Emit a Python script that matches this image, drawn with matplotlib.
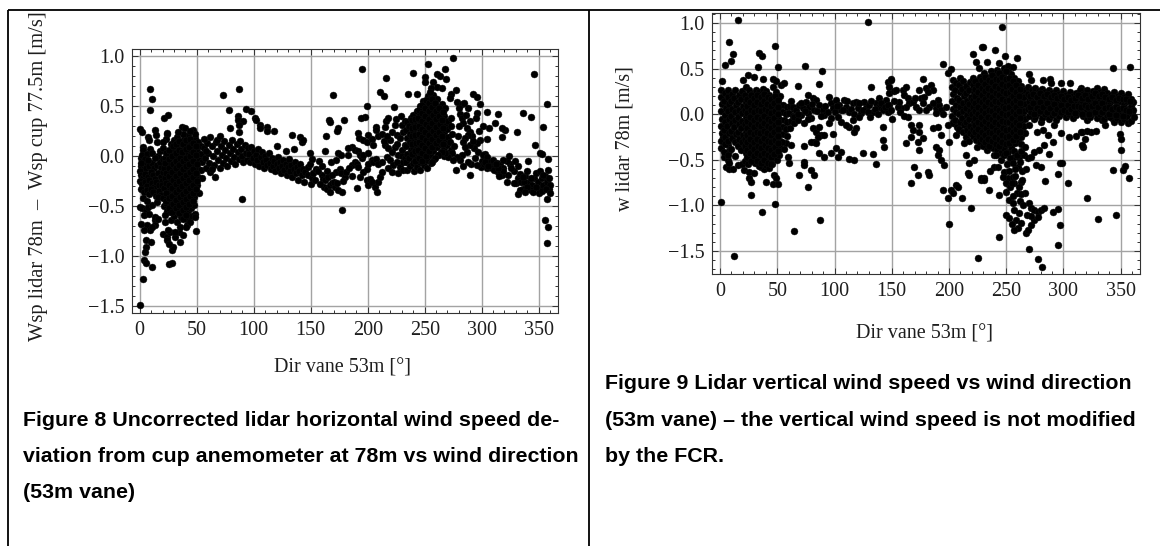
import matplotlib
matplotlib.use("Agg")
import matplotlib.pyplot as plt
from matplotlib.ticker import FixedLocator, MultipleLocator
from matplotlib.lines import Line2D

# ---------------- text ----------------
x_tick_values = [0, 50, 100, 150, 200, 250, 300, 350]
x_tick_labels = ["0", "50", "100", "150", "200", "250", "300", "350"]
y_tick_values = [-1.5, -1.0, -0.5, 0.0, 0.5, 1.0]
y_tick_labels = ["\u22121.5", "\u22121.0", "\u22120.5", "0.0", "0.5", "1.0"]
x_label = "Dir vane 53m [\u00b0]"
y_label_fig8 = "Wsp lidar 78m  \u2013  Wsp cup 77.5m [m/s]"
y_label_fig9 = "w lidar 78m [m/s]"
caption_fig8 = ["Figure 8 Uncorrected lidar horizontal wind speed de-",
                "viation from cup anemometer at 78m vs wind direction",
                "(53m vane)"]
caption_fig9 = ["Figure 9 Lidar vertical wind speed vs wind direction",
                "(53m vane) \u2013 the vertical wind speed is not modified",
                "by the FCR."]

# ---------------- Figure 8 data: (direction deg, wsp deviation m/s) ----------------
fig8_north = [
    (9.0, 0.67), (11.1, 0.57), (9.0, 0.46), (21.6, 0.38), (24.5, 0.41), (0.3, 0.27), (2.4, 0.24), (7.6, 0.19), (8.2, 0.16), (13.4, 0.26),
    (14.3, 0.21), (23.6, 0.22), (22.8, 0.17), (3.2, 0.09), (9.0, 0.07), (14.9, 0.14), (2.6, 0.06), (1.0, -0.02), (4.0, -0.05), (6.5, -0.08),
    (1.5, -0.10), (3.5, -0.13), (0.5, -0.15), (5.5, -0.12), (8.0, -0.10), (10.5, -0.07), (12.5, -0.12), (15.0, -0.09), (17.5, -0.06), (19.0, -0.12),
    (1.0, -0.19), (3.0, -0.22), (5.0, -0.18), (7.0, -0.21), (9.5, -0.16), (11.5, -0.19), (13.5, -0.23), (16.0, -0.17), (18.5, -0.21), (20.0, -0.16),
    (0.5, -0.25), (2.0, -0.28), (4.5, -0.26), (6.5, -0.30), (8.5, -0.24), (10.5, -0.27), (12.5, -0.31), (14.5, -0.26), (17.0, -0.29), (19.5, -0.25),
    (1.5, -0.33), (3.5, -0.36), (6.0, -0.34), (8.0, -0.38), (10.0, -0.33), (12.0, -0.36), (14.0, -0.40), (16.5, -0.35), (18.5, -0.39), (2.5, -0.42),
    (0.3, -0.51), (2.3, -0.52), (5.3, -0.54), (3.8, -0.59), (8.2, -0.58), (1.0, -0.68), (6.5, -0.69), (3.8, -0.74), (9.0, -0.74), (5.3, -0.84),
    (5.3, -0.91), (4.8, -0.96), (3.8, -1.04), (5.3, -1.07), (10.5, -1.11), (2.6, -1.23), (0.3, -1.49), (9.7, -0.86), (13.4, -0.64), (13.4, -0.69),
    (7.6, -0.51), (10.5, -0.49), (14.9, -0.46), (16.3, -0.41), (19.3, -0.29), (13.4, -0.61), (16.3, -0.63), (10.5, -0.71), (6.0, -0.45), (2.0, 0.01),
    (6.0, 0.02), (11.0, 0.03), (16.0, 0.00), (18.0, 0.05), (4.5, -0.03), (7.5, -0.04), (0.8, -0.07), (13.0, -0.02), (20.0, -0.03),
]
fig8_northeast = [
    (20.5, 0.08), (21.8, -0.02), (20.9, -0.12), (22.1, -0.22), (21.2, -0.32), (20.4, -0.42), (21.6, -0.50),
    (24.3, 0.03), (23.5, -0.07), (24.8, -0.17), (23.9, -0.27), (24.6, -0.37), (23.4, -0.47), (24.2, -0.55),
    (27.2, 0.12), (26.5, 0.02), (27.8, -0.08), (26.9, -0.15), (27.4, -0.24), (26.6, -0.33), (27.9, -0.40), (27.1, -0.48), (26.4, -0.56), (27.5, -0.64),
    (30.4, 0.16), (29.6, 0.07), (30.8, -0.03), (29.9, -0.12), (30.2, -0.20), (29.5, -0.28), (30.7, -0.36), (30.1, -0.44), (29.7, -0.52), (30.5, -0.60),
    (33.1, 0.19), (32.6, 0.10), (33.7, 0.01), (32.9, -0.07), (33.4, -0.16), (32.5, -0.25), (33.8, -0.32), (33.0, -0.40), (32.7, -0.48), (33.5, -0.56), (32.8, -0.66),
    (36.3, 0.13), (35.6, 0.04), (36.8, -0.04), (35.9, -0.13), (36.5, -0.21), (35.4, -0.29), (36.7, -0.37), (36.0, -0.45), (35.7, -0.53), (36.4, -0.61),
    (39.2, 0.17), (38.5, 0.08), (39.7, -0.01), (38.8, -0.09), (39.4, -0.18), (38.6, -0.26), (39.8, -0.34), (39.0, -0.42), (38.7, -0.50), (39.5, -0.58),
    (42.1, 0.21), (41.6, 0.12), (42.7, 0.03), (41.9, -0.06), (42.4, -0.15), (41.5, -0.23), (42.8, -0.31), (42.0, -0.39), (41.7, -0.47), (42.5, -0.55), (41.8, -0.63),
    (45.3, 0.15), (44.6, 0.06), (45.7, -0.03), (44.9, -0.12), (45.4, -0.20), (44.5, -0.28), (45.8, -0.36), (45.0, -0.44), (44.7, -0.52), (45.5, -0.60),
    (48.2, 0.18), (47.6, 0.09), (48.7, 0.00), (47.9, -0.09), (48.4, -0.17), (47.5, -0.25), (48.8, -0.33), (48.0, -0.41), (47.7, -0.49),
    (51.3, 0.14), (50.6, 0.05), (51.7, -0.04), (50.9, -0.13), (51.4, -0.21), (50.5, -0.29), (51.8, -0.37),
    (54.2, 0.10), (53.6, 0.02), (54.7, -0.06), (53.9, -0.14), (54.4, -0.22),
    (20.7, -0.78), (23.6, -0.81), (26.6, -0.76), (28.0, -0.94), (29.0, -0.91), (26.0, -1.08), (28.0, -1.07), (23.6, -0.84), (26.0, -0.88), (30.9, -0.81),
    (34.5, -0.76), (35.4, -0.86), (35.4, -0.71), (41.2, -0.69), (44.2, -0.66), (49.4, -0.75), (48.5, -0.58), (48.5, -0.61), (25.0, -0.74), (31.0, -0.76),
    (38.3, -0.79), (40.4, -0.71), (38.3, -0.63), (22.2, -0.59), (22.2, -0.66), (36.8, 0.29), (39.8, 0.28), (47.1, 0.26), (48.5, 0.22), (38.3, 0.22),
    (23.7, 0.23), (20.7, 0.14), (44.0, 0.25), (33.5, 0.24),
]
fig8_northeast_dense = [
    (22.9, 0.03), (22.6, -0.07), (23.0, -0.17), (22.7, -0.27), (23.1, -0.37), (22.8, -0.45),
    (25.8, 0.06), (26.0, -0.03), (25.6, -0.12), (26.1, -0.20), (25.7, -0.29), (26.0, -0.42), (25.5, -0.52),
    (28.8, 0.10), (28.5, 0.00), (29.0, -0.08), (28.6, -0.16), (28.9, -0.24), (28.4, -0.32), (28.7, -0.40), (28.9, -0.48), (28.5, -0.56),
    (31.8, 0.12), (31.5, 0.03), (32.0, -0.05), (31.6, -0.12), (31.9, -0.20), (31.4, -0.28), (31.7, -0.36), (32.0, -0.44), (31.6, -0.52),
    (34.9, 0.15), (34.6, 0.06), (35.0, -0.02), (34.7, -0.09), (35.1, -0.17), (34.5, -0.25), (34.8, -0.33), (35.0, -0.41), (34.6, -0.49), (34.9, -0.57),
    (37.8, 0.12), (37.5, 0.04), (38.0, -0.05), (37.6, -0.13), (37.9, -0.22), (37.4, -0.30), (37.7, -0.38), (38.0, -0.46), (37.6, -0.54),
    (40.8, 0.16), (40.5, 0.07), (41.0, -0.02), (40.6, -0.10), (40.9, -0.19), (40.4, -0.27), (40.7, -0.35), (41.0, -0.43), (40.6, -0.51), (40.9, -0.59),
    (43.8, 0.17), (43.5, 0.09), (44.0, 0.00), (43.6, -0.08), (43.9, -0.16), (43.4, -0.24), (43.7, -0.32), (44.0, -0.40), (43.6, -0.48),
    (46.8, 0.13), (46.5, 0.04), (47.0, -0.05), (46.6, -0.13), (46.9, -0.21), (46.4, -0.29), (46.7, -0.37), (47.0, -0.45),
    (49.8, 0.10), (49.5, 0.01), (50.0, -0.08), (49.6, -0.17), (49.9, -0.25), (49.4, -0.33),
]
fig8_east = [
    (56, 0.08), (57, -0.02), (58, -0.12), (59, 0.13), (60, 0.03), (61, -0.07), (62, -0.16), (63, 0.10), (64, 0.00), (65, -0.09),
    (66, -0.21), (67, 0.14), (68, 0.05), (69, -0.04), (70, -0.12), (71, 0.10), (72, 0.01), (73, -0.07), (74, 0.15), (75, 0.06),
    (76, -0.02), (77, -0.10), (78, 0.11), (79, 0.03), (80, -0.05), (81, 0.16), (82, 0.07), (83, -0.01), (84, -0.08), (85, 0.12),
    (86, 0.04), (87, -0.03), (88, 0.15), (89, 0.07), (90, 0.00), (91, -0.06), (92, 0.11), (93, 0.03), (94, -0.04), (95, 0.08),
    (73.4, 0.61), (87.1, 0.67), (78.6, 0.46), (92.9, 0.47), (97.3, 0.45), (101, 0.38), (102, 0.36), (86.6, 0.40), (86.6, 0.36), (90.9, 0.35),
    (79.2, 0.28), (87.4, 0.31), (87.4, 0.24), (89.8, -0.43), (61.6, 0.19), (67.4, 0.16), (56, 0.17), (63, -0.13), (70, 0.20), (58, 0.05),
]
fig8_southeast = [
    (96, 0.02), (97, -0.06), (98, 0.09), (99, -0.02), (100, 0.05), (101, -0.08), (102, 0.01), (103, -0.04), (104, 0.07), (105, -0.10),
    (106, -0.01), (107, 0.04), (108, -0.06), (109, -0.12), (110, 0.00), (111, -0.04), (112, -0.09), (113, 0.03), (114, -0.07), (115, -0.13),
    (116, -0.02), (117, -0.10), (118, -0.05), (119, -0.15), (120, -0.08), (121, -0.01), (122, -0.12), (123, -0.06), (124, -0.17), (125, -0.10),
    (126, -0.04), (127, -0.14), (128, -0.08), (129, -0.19), (130, -0.11), (131, -0.03), (132, -0.15), (133, -0.09), (134, -0.21), (135, -0.13),
    (136, -0.06), (137, -0.17), (138, -0.11), (139, -0.24), (140, -0.15), (141, -0.08), (142, -0.19), (143, -0.13), (144, -0.26), (145, -0.16),
    (147.3, -0.11), (147.9, -0.19), (150.9, -0.22), (150.3, -0.28), (152.3, -0.17), (153.8, -0.24), (149.4, -0.08), (149.4, 0.03), (150.9, -0.03), (157.3, -0.05),
    (159.6, -0.19), (161, -0.23), (162.5, -0.24), (161.9, -0.31), (163.9, -0.33), (166.8, -0.29), (168.3, -0.27), (165.3, -0.21), (171.3, -0.31), (174.2, -0.34),
    (177.1, -0.36), (177.7, -0.54), (172.5, -0.16), (175.5, -0.13), (177, -0.17), (180, -0.21), (162.5, 0.05), (167.5, -0.06), (172.5, -0.04), (174, 0.03),
    (176.4, 0.01), (155, -0.13), (158, -0.28), (156, -0.15), (160, -0.10), (164, -0.15), (169, -0.19), (170, -0.26), (167, -0.36), (173, -0.27),
    (105.5, 0.31), (105.5, 0.28), (111.9, 0.29), (111.9, 0.25), (117.8, 0.25), (133.3, 0.21), (140.6, 0.19), (142.1, 0.14), (143, 0.16), (128, 0.05),
    (135, 0.07), (120, 0.10), (163.4, 0.20), (166.1, 0.36), (167, 0.34), (169.9, 0.61), (173.7, 0.28), (173.1, 0.25), (179.5, 0.36),
]
fig8_south = [
    (195.3, 0.864), (216.1, 0.78), (210.8, 0.64), (214.3, 0.60), (199.7, 0.50), (197.7, 0.39), (194.1, 0.38), (223.3, 0.49), (207, 0.29), (207.6, 0.26),
    (214.9, 0.29), (216.4, 0.35), (217.8, 0.38), (225.2, 0.37), (229.6, 0.40), (191.8, 0.23), (192.7, 0.18), (196.2, 0.16), (199.1, 0.14), (200.6, 0.21),
    (203.5, 0.17), (205, 0.11), (209.3, 0.20), (212.3, 0.22), (186, 0.09), (189, 0.06), (191.2, 0.05), (193.2, 0.01), (194.7, -0.02), (182.9, 0.01),
    (183, 0.08), (186, -0.09), (188.8, -0.06), (190.3, -0.08), (191.8, -0.11), (190.3, -0.32), (193.2, -0.21), (196.2, -0.16), (199.1, -0.24), (200.6, -0.29),
    (202, -0.23), (203.5, -0.26), (206.4, -0.31), (207.9, -0.36), (209.3, -0.26), (210.8, -0.21), (212.3, -0.16), (199.1, -0.13), (200.6, -0.08), (203.5, -0.04),
    (205, -0.06), (207, -0.03), (209.3, -0.08), (212.3, -0.06), (196.2, 0.01), (200.6, 0.03), (181.4, -0.16), (184, -0.12), (186.5, -0.20), (178, -0.25),
    (215.2, 0.107), (218.1, 0.074), (221, 0.04), (223.9, 0.09), (226.9, 0.007), (229.8, 0.057), (232.7, 0.107), (216.6, -0.01), (219.5, -0.043), (222.5, -0.093),
    (225.4, -0.06), (228.3, -0.11), (231.3, -0.06), (218.1, -0.126), (221.6, -0.16), (226.9, -0.176), (231.3, -0.143), (221, 0.24), (225.4, 0.207), (228.3, 0.174),
    (231.3, 0.234), (223.9, 0.307), (229.8, 0.307), (232.7, 0.347), (214, 0.15), (220, 0.16), (226, 0.12), (217, 0.20), (230, 0.00), (233, -0.02),
]
fig8_southwest = [
    (234.2, -0.14), (233.6, -0.06), (234.7, 0.02), (233.9, 0.10), (234.4, 0.18), (233.5, 0.26), (234.8, 0.34),
    (237.3, -0.10), (236.6, -0.02), (237.8, 0.06), (236.9, 0.14), (237.4, 0.22), (236.5, 0.30), (237.7, 0.38),
    (240.2, -0.15), (239.6, -0.07), (240.7, 0.01), (239.9, 0.09), (240.4, 0.17), (239.5, 0.25), (240.8, 0.33), (240.0, 0.41),
    (243.3, -0.11), (242.6, -0.03), (243.8, 0.05), (242.9, 0.13), (243.4, 0.21), (242.5, 0.29), (243.7, 0.37), (243.0, 0.45),
    (246.2, -0.14), (245.6, -0.06), (246.7, 0.02), (245.9, 0.10), (246.4, 0.18), (245.5, 0.26), (246.8, 0.34), (246.0, 0.42), (245.7, 0.50),
    (249.3, -0.09), (248.6, -0.01), (249.8, 0.07), (248.9, 0.15), (249.4, 0.23), (248.5, 0.31), (249.7, 0.39), (249.0, 0.47), (248.7, 0.55),
    (252.2, -0.12), (251.6, -0.04), (252.7, 0.04), (251.9, 0.12), (252.4, 0.20), (251.5, 0.28), (252.8, 0.36), (252.0, 0.44), (251.7, 0.52), (252.5, 0.60),
    (255.3, -0.07), (254.6, 0.01), (255.8, 0.09), (254.9, 0.17), (255.4, 0.25), (254.5, 0.33), (255.7, 0.41), (255.0, 0.49), (254.7, 0.57),
    (258.2, -0.03), (257.6, 0.05), (258.7, 0.13), (257.9, 0.21), (258.4, 0.29), (257.5, 0.37), (258.8, 0.45), (258.0, 0.53), (257.7, 0.61),
    (261.3, 0.01), (260.6, 0.09), (261.8, 0.17), (260.9, 0.25), (261.4, 0.33), (260.5, 0.41), (261.7, 0.49), (261.0, 0.57),
    (264.2, 0.04), (263.6, 0.12), (264.7, 0.20), (263.9, 0.28), (264.4, 0.36), (263.5, 0.44), (264.8, 0.52),
    (267.3, 0.00), (266.6, 0.08), (267.8, 0.16), (266.9, 0.24), (267.4, 0.32), (266.5, 0.40), (267.7, 0.48),
    (270.2, 0.03), (269.6, 0.11), (270.7, 0.19), (269.9, 0.27), (270.4, 0.35),
    (273.3, 0.06), (272.6, 0.14), (273.8, 0.22), (272.9, 0.30), (273.4, 0.38),
    (275.1, 0.98), (253.2, 0.92), (240, 0.83), (250.3, 0.79), (250.3, 0.74), (260.5, 0.82), (263.4, 0.80), (267.8, 0.87), (268.7, 0.77), (257.6, 0.74),
    (260.5, 0.69), (264.9, 0.68), (235.6, 0.62), (242.9, 0.62), (255.2, 0.68), (254.6, 0.64), (272.7, 0.62), (272.1, 0.58), (277.1, 0.66), (292.6, 0.62),
    (296.1, 0.59), (278.6, 0.54), (283, 0.52), (284.4, 0.53),
]
fig8_southwest_dense = [
    (238.8, 0.02), (238.5, 0.12), (239.0, 0.20), (238.6, 0.28), (238.9, 0.36),
    (241.8, -0.05), (241.5, 0.05), (242.0, 0.13), (241.6, 0.21), (241.9, 0.29), (241.4, 0.37),
    (244.8, -0.02), (244.5, 0.06), (245.0, 0.14), (244.6, 0.22), (244.9, 0.30), (244.4, 0.38), (244.7, 0.46),
    (247.8, -0.05), (247.5, 0.03), (248.0, 0.11), (247.6, 0.19), (247.9, 0.27), (247.4, 0.35), (247.7, 0.43), (248.0, 0.51),
    (250.8, 0.00), (250.5, 0.08), (251.0, 0.16), (250.6, 0.24), (250.9, 0.32), (250.4, 0.40), (250.7, 0.48), (251.0, 0.56),
    (253.8, 0.05), (253.5, 0.13), (254.0, 0.21), (253.6, 0.29), (253.9, 0.37), (253.4, 0.45), (253.7, 0.53),
    (256.8, 0.09), (256.5, 0.17), (257.0, 0.25), (256.6, 0.33), (256.9, 0.41), (256.4, 0.49), (256.7, 0.57),
    (259.8, 0.13), (259.5, 0.21), (260.0, 0.29), (259.6, 0.37), (259.9, 0.45), (259.4, 0.53),
    (262.8, 0.16), (262.5, 0.24), (263.0, 0.32), (262.6, 0.40), (262.9, 0.48),
    (265.8, 0.12), (265.5, 0.20), (266.0, 0.28), (265.6, 0.36), (265.9, 0.44),
]
fig8_west = [
    (288.3, 0.48), (295.6, 0.43), (298.5, 0.52), (295, 0.38), (305, 0.44), (306.8, 0.28), (305, 0.17), (311.7, 0.33), (317.5, 0.19), (280.4, 0.48),
    (281, 0.42), (282.5, 0.38), (283.9, 0.33), (286.9, 0.28), (289.8, 0.24), (291.2, 0.20), (288.3, 0.21), (285.4, 0.18), (283.9, 0.14), (297.9, 0.247),
    (298.5, 0.157), (296.1, 0.124), (293.2, 0.074), (289.8, 0.107), (286.9, 0.04), (282.5, 0.007), (281, -0.043), (278.1, -0.01), (273.7, 0.024), (270.8, -0.01),
    (267.8, 0.024), (264.9, 0.04), (262, 0.007), (259, -0.027), (256.1, -0.06), (277.5, -0.143), (289.8, -0.193), (276, 0.10), (279, 0.20), (285, 0.09),
    (292, 0.15), (294, -0.02), (297, 0.04), (300, -0.05), (303, 0.02), (291, -0.08), (288, -0.06), (299, -0.11), (302, -0.08), (305, -0.12),
    (301.4, 0.007), (304.3, -0.01), (307.3, -0.06), (310.2, -0.043), (313.1, -0.076), (316.1, -0.093), (319, -0.126), (302.8, -0.06), (308.7, -0.126), (314.6, -0.16),
    (317.5, -0.193), (305.8, -0.10), (311, -0.14), (296, -0.09), (284, -0.10), (275, -0.04), (280, 0.30), (290, 0.35), (301, 0.30), (286, 0.41),
]
fig8_northwest = [
    (346.1, 0.82), (357.4, 0.52), (354.2, 0.29), (335.8, 0.43), (343.5, 0.39), (320.3, 0.26), (331, 0.24), (347.1, 0.11), (351, 0.03), (352.6, 0.02),
    (358.1, -0.03), (357.4, -0.43), (355.8, -0.64), (358.4, -0.71), (357.4, -0.87), (325.2, -0.084), (328.4, -0.153), (331.6, -0.223), (330, -0.275), (334.8, -0.258),
    (336.5, -0.328), (338.1, -0.206), (341.3, -0.258), (344.5, -0.293), (342.9, -0.345), (346.1, -0.223), (349.4, -0.258), (351, -0.328), (352.6, -0.223), (354.2, -0.293),
    (355.8, -0.206), (357.4, -0.258), (359, -0.328), (360, -0.293), (347.7, -0.171), (351, -0.153), (354.2, -0.188), (339.7, -0.153), (333.2, -0.345), (331.6, -0.38),
    (328.4, -0.275), (323.5, -0.188), (321.9, -0.258), (318.7, -0.153), (315.5, -0.206), (313.9, -0.118), (312.3, -0.084), (322, -0.05), (326, -0.12), (334, -0.18),
    (337, -0.26), (340, -0.31), (345, -0.36), (348, -0.31), (350, -0.37), (353, -0.35), (356, -0.33), (359, -0.22), (343, -0.22), (336, -0.21),
    (324, 0.00), (329, -0.05), (332, -0.10), (319, -0.04), (360, -0.37), (358.5, -0.14), (341, -0.05), (338, -0.36), (313.9, 0.42), (318, 0.28),
]

# ---------------- Figure 9 data: (direction deg, vertical wind speed m/s) ----------------
fig9_north = [
    (15.4, 1.03), (8.1, 0.79), (11, 0.66), (9.6, 0.58), (4.6, 0.54), (34.4, 0.675), (36.4, 0.64), (48.3, 0.75), (50.4, 0.52), (32.9, 0.52),
    (24.2, 0.43), (30, 0.41), (37.3, 0.39), (46, 0.39), (48.9, 0.36), (53.3, 0.32), (56.2, 0.34), (0.9, -0.96), (48.3, -0.98), (27.1, -0.89),
    (36.4, -1.07), (64.9, -1.28), (12.5, -1.56), (40.2, -0.74), (46, -0.76), (50.4, -0.76), (25.6, -0.70), (27.1, -0.74), (21.2, -0.61), (25.6, -0.63),
    (30, -0.65), (35.8, -0.58), (38.8, -0.6), (47.5, -0.67), (48.9, -0.70), (5.2, -0.58), (8.1, -0.6), (11, -0.6), (15.4, -0.56), (2.3, -0.25),
    (5.2, -0.17), (6.6, -0.34), (8.1, -0.40), (3.7, -0.47), (6.6, -0.50), (57.6, -0.32), (59, -0.47), (60.5, -0.54), (1.5, 0.36), (20, 0.37),
]
fig9_north_core = [
    (1.2, 0.27), (0.6, 0.19), (1.7, 0.11), (0.9, 0.03), (1.4, -0.05), (0.5, -0.13), (1.8, -0.21), (1.0, -0.29), (0.7, -0.37),
    (4.3, 0.23), (3.6, 0.15), (4.8, 0.07), (3.9, -0.01), (4.4, -0.09), (3.5, -0.17), (4.7, -0.25), (4.0, -0.33), (3.7, -0.41),
    (7.2, 0.27), (6.6, 0.19), (7.7, 0.11), (6.9, 0.03), (7.4, -0.05), (6.5, -0.13), (7.8, -0.21), (7.0, -0.29), (6.7, -0.45), (7.5, -0.53),
    (10.3, 0.22), (9.6, 0.14), (10.8, 0.06), (9.9, -0.02), (10.4, -0.10), (9.5, -0.18), (10.7, -0.26), (10.0, -0.38),
    (13.2, 0.26), (12.6, 0.18), (13.7, 0.10), (12.9, 0.02), (13.4, -0.06), (12.5, -0.14), (13.8, -0.22), (13.0, -0.30), (12.7, -0.46),
    (16.3, 0.21), (15.6, 0.13), (16.8, 0.05), (15.9, -0.03), (16.4, -0.11), (15.5, -0.19), (16.7, -0.27), (16.0, -0.35),
    (19.2, 0.25), (18.6, 0.17), (19.7, 0.09), (18.9, 0.01), (19.4, -0.07), (18.5, -0.15), (19.8, -0.23), (19.0, -0.31), (18.7, -0.39), (19.5, -0.55),
    (22.3, 0.30), (21.6, 0.21), (22.8, 0.13), (21.9, 0.05), (22.4, -0.03), (21.5, -0.11), (22.7, -0.19), (22.0, -0.27), (21.7, -0.35), (22.5, -0.43), (21.8, -0.51),
    (25.2, 0.26), (24.6, 0.17), (25.7, 0.09), (24.9, 0.01), (25.4, -0.07), (24.5, -0.15), (25.8, -0.23), (25.0, -0.31), (24.7, -0.39), (25.5, -0.47), (24.8, -0.55),
    (28.3, 0.22), (27.6, 0.14), (28.8, 0.06), (27.9, -0.02), (28.4, -0.10), (27.5, -0.18), (28.7, -0.26), (28.0, -0.34), (27.7, -0.42), (28.5, -0.50),
    (31.2, 0.27), (30.6, 0.18), (31.7, 0.10), (30.9, 0.02), (31.4, -0.06), (30.5, -0.14), (31.8, -0.22), (31.0, -0.30), (30.7, -0.38), (31.5, -0.46), (30.8, -0.54),
    (34.3, 0.24), (33.6, 0.15), (34.8, 0.07), (33.9, -0.01), (34.4, -0.09), (33.5, -0.17), (34.7, -0.25), (34.0, -0.33), (33.7, -0.41), (34.5, -0.49), (33.8, -0.57),
    (37.2, 0.28), (36.6, 0.20), (37.7, 0.12), (36.9, 0.04), (37.4, -0.04), (36.5, -0.12), (37.8, -0.20), (37.0, -0.28), (36.7, -0.36), (37.5, -0.44), (36.8, -0.52),
    (40.3, 0.25), (39.6, 0.16), (40.8, 0.08), (39.9, 0.00), (40.4, -0.08), (39.5, -0.16), (40.7, -0.24), (40.0, -0.32), (39.7, -0.40), (40.5, -0.48), (39.8, -0.56),
    (43.2, 0.21), (42.6, 0.13), (43.7, 0.05), (42.9, -0.03), (43.4, -0.11), (42.5, -0.19), (43.8, -0.27), (43.0, -0.35), (42.7, -0.43), (43.5, -0.51), (42.8, -0.59),
    (46.3, 0.30), (45.6, 0.17), (46.8, 0.09), (45.9, 0.01), (46.4, -0.07), (45.5, -0.15), (46.7, -0.23), (46.0, -0.31), (45.7, -0.39), (46.5, -0.47), (45.8, -0.55),
    (49.2, 0.24), (48.6, 0.14), (49.7, 0.06), (48.9, -0.02), (49.4, -0.10), (48.5, -0.18), (49.8, -0.26), (49.0, -0.34), (48.7, -0.42), (49.5, -0.50),
    (52.3, 0.20), (51.6, 0.11), (52.8, 0.03), (51.9, -0.05), (52.4, -0.13), (51.5, -0.21), (52.7, -0.29), (52.0, -0.37), (51.7, -0.45),
    (55.2, 0.10), (54.6, 0.02), (55.7, -0.06), (54.9, -0.14), (55.4, -0.22), (54.5, -0.30), (55.8, -0.38),
    (58.3, 0.08), (57.6, 0.00), (58.8, -0.08), (57.9, -0.16), (58.4, -0.24),
    (61.2, 0.09), (60.6, 0.01), (61.7, -0.07), (60.9, -0.15),
    (64.3, 0.06), (63.6, -0.02), (64.8, -0.10),
]
fig9_north_dense = [
    (23.6, 0.17), (23.4, 0.09), (23.8, 0.01), (23.5, -0.07), (23.7, -0.15), (23.3, -0.23), (23.6, -0.31), (23.9, -0.39), (23.5, -0.47),
    (26.7, 0.21), (26.4, 0.13), (26.9, 0.05), (26.5, -0.03), (26.8, -0.11), (26.3, -0.19), (26.6, -0.27), (26.9, -0.35), (26.5, -0.43), (26.7, -0.51),
    (29.6, 0.18), (29.4, 0.10), (29.8, 0.02), (29.5, -0.06), (29.7, -0.14), (29.3, -0.22), (29.6, -0.30), (29.9, -0.38), (29.5, -0.46),
    (32.7, 0.21), (32.4, 0.13), (32.9, 0.05), (32.5, -0.03), (32.8, -0.11), (32.3, -0.19), (32.6, -0.27), (32.9, -0.35), (32.5, -0.43), (32.7, -0.51),
    (35.6, 0.19), (35.4, 0.11), (35.8, 0.03), (35.5, -0.05), (35.7, -0.13), (35.3, -0.21), (35.6, -0.29), (35.9, -0.37), (35.5, -0.45), (35.7, -0.53),
    (38.7, 0.22), (38.4, 0.14), (38.9, 0.06), (38.5, -0.02), (38.8, -0.10), (38.3, -0.18), (38.6, -0.26), (38.9, -0.34), (38.5, -0.42), (38.7, -0.50),
    (41.6, 0.19), (41.4, 0.11), (41.8, 0.03), (41.5, -0.05), (41.7, -0.13), (41.3, -0.21), (41.6, -0.29), (41.9, -0.37), (41.5, -0.45), (41.7, -0.53),
    (44.7, 0.17), (44.4, 0.09), (44.9, 0.01), (44.5, -0.07), (44.8, -0.15), (44.3, -0.23), (44.6, -0.31), (44.9, -0.39), (44.5, -0.47), (44.7, -0.55),
    (47.6, 0.20), (47.4, 0.12), (47.8, 0.04), (47.5, -0.04), (47.7, -0.12), (47.3, -0.20), (47.6, -0.28), (47.9, -0.36), (47.5, -0.44),
    (50.7, 0.16), (50.4, 0.08), (50.9, 0.00), (50.5, -0.08), (50.8, -0.16), (50.3, -0.24), (50.6, -0.32), (50.9, -0.40),
]
fig9_east = [
    (63.5, 0.082), (66.4, 0.046), (69.3, 0.10), (72.2, 0.064), (75.1, 0.137), (78, 0.082), (80.9, 0.173), (64.9, -0.027), (67.8, -0.064), (70.7, -0.009),
    (73.7, -0.10), (76.6, 0.009), (79.5, -0.046), (82.4, 0.046), (83.8, 0.155), (86.8, 0.10), (89.7, 0.046), (91.1, -0.009), (94, 0.027), (95.5, 0.192),
    (96.9, 0.119), (98.4, 0.064), (101.3, 0.155), (104.2, 0.10), (105.7, 0.046), (108.6, 0.155), (110, 0.082), (112.9, 0.027), (115.9, 0.119), (118.8, 0.137),
    (120.2, 0.064), (123.2, 0.009), (126.1, 0.137), (127.5, 0.064), (130.5, 0.10), (133.3, 0.027), (136.3, 0.119), (139.2, 0.082), (142.1, 0.046), (145, 0.155),
    (148, 0.10), (146.5, 0.027), (139.2, 0.173), (68, 0.00), (71, 0.12), (74, 0.03), (77, -0.05), (80, 0.11), (85, 0.03), (88, -0.02),
    (92, 0.09), (100, 0.02), (103, -0.03), (107, 0.05), (111, 0.14), (114, 0.06), (117, 0.00), (121, 0.12), (125, 0.05), (129, 0.02),
    (132, 0.15), (135, 0.06), (138, 0.00), (141, 0.12), (144, 0.08), (97, -0.04), (102, 0.09), (116, -0.06), (131, -0.03), (62, 0.14),
    (128.9, 1.008), (74.2, 0.53), (88.8, 0.47), (68.2, 0.31), (86.8, 0.33), (131.9, 0.30), (146.5, 0.35), (149.3, 0.39), (147.9, 0.23), (80.9, -0.155),
    (83.8, -0.192), (86.8, -0.137), (88.2, -0.228), (85.3, -0.246), (82.4, -0.301), (91.1, -0.228), (98.4, -0.218), (79.5, -0.301), (83.8, -0.313), (73.7, -0.35),
    (62, -0.34), (86.8, -0.43), (91.1, -0.47), (96.9, -0.43), (101.3, -0.375), (105.7, -0.41), (102.7, -0.465), (112.9, -0.49), (117.3, -0.50), (124.6, -0.43),
    (133.3, -0.44), (136.3, -0.55), (73.7, -0.52), (73.1, -0.56), (69.3, -0.67), (79.5, -0.61), (81.8, -0.67), (76.6, -0.80), (87.6, -1.16), (142.1, -0.137),
    (142.1, -0.284), (143, -0.365), (112.9, -0.137), (118.8, -0.155), (117.3, -0.192), (110, -0.119), (121.7, -0.027), (95, -0.10), (106, -0.08), (77, 0.21),
]
fig9_south = [
    (177, 0.386), (179.9, 0.284), (184.3, 0.32), (185.7, 0.265), (181.3, 0.247), (174.1, 0.265), (175.5, 0.173), (177, 0.119), (178.4, 0.192), (149.3, 0.37),
    (147.9, 0.30), (152.3, 0.25), (153.7, 0.27), (159.5, 0.265), (160.9, 0.21), (162.4, 0.294), (163.9, 0.173), (165.3, 0.119), (168.2, 0.137), (171.2, 0.082),
    (162.4, 0.082), (158, 0.064), (146.4, 0.10), (149.3, 0.046), (155.2, 0.082), (156.6, 0.137), (174.1, 0.046), (182.8, 0.082), (188.6, 0.064), (191.5, 0.10),
    (193, 0.046), (190, 0.155), (188.6, 0.009), (163.9, -0.027), (166.8, -0.119), (168.2, -0.173), (174.1, -0.119), (166.8, -0.246), (174.1, -0.192), (172.7, -0.301),
    (174.1, -0.393), (177, -0.265), (162.4, -0.319), (185.7, -0.155), (190, -0.137), (193, -0.228), (200.3, -0.301), (198.9, -0.119), (203.2, -0.082), (206.1, -0.228),
    (209, -0.173), (213.4, -0.319), (214.8, -0.21), (188.6, -0.356), (191.5, -0.393), (190, -0.447), (193, -0.502), (195.9, -0.557), (169.7, -0.575), (172.7, -0.666),
    (166.8, -0.757), (181.3, -0.63), (182.8, -0.666), (194.5, -0.83), (201.7, -0.83), (203.2, -0.868), (206.1, -0.776), (207.5, -0.794), (198.9, -0.922), (211.2, -0.922),
    (199.7, -1.2), (219.2, -1.03), (225.1, -1.58), (214.8, -0.447), (217.7, -0.53), (216.2, -0.64), (217.7, -0.666), (227.9, -0.72), (230.8, -0.70), (222, -0.502),
    (228.8, 0.74), (221.2, 0.66), (223.5, 0.57), (194.5, 0.55), (198.9, 0.45), (201.7, 0.50), (152, 0.14), (157, 0.02), (170, 0.18), (180, 0.05),
    (186, 0.12), (195, 0.00), (197, 0.08), (150, -0.05), (161, -0.02),
]
fig9_southwest_core = [
    (203.2, 0.38), (202.6, 0.30), (203.7, 0.22), (202.9, 0.14), (203.4, 0.06), (202.5, -0.02), (203.8, -0.10),
    (206.3, 0.34), (205.6, 0.26), (206.8, 0.18), (205.9, 0.10), (206.4, 0.02), (205.5, -0.06), (206.7, -0.14),
    (209.2, 0.40), (208.6, 0.32), (209.7, 0.24), (208.9, 0.16), (209.4, 0.08), (208.5, 0.00), (209.8, -0.08), (209.0, -0.16),
    (212.3, 0.36), (211.6, 0.28), (212.8, 0.20), (211.9, 0.12), (212.4, 0.04), (211.5, -0.04), (212.7, -0.12), (212.0, -0.20),
    (215.2, 0.31), (214.6, 0.23), (215.7, 0.15), (214.9, 0.07), (215.4, -0.01), (214.5, -0.09), (215.8, -0.17), (215.0, -0.25),
    (218.3, 0.35), (217.6, 0.27), (218.8, 0.19), (217.9, 0.11), (218.4, 0.03), (217.5, -0.05), (218.7, -0.13), (218.0, -0.21), (217.7, -0.29),
    (221.2, 0.40), (220.6, 0.32), (221.7, 0.24), (220.9, 0.16), (221.4, 0.08), (220.5, 0.00), (221.8, -0.08), (221.0, -0.16), (220.7, -0.24),
    (224.3, 0.36), (223.6, 0.28), (224.8, 0.20), (223.9, 0.12), (224.4, 0.04), (223.5, -0.04), (224.7, -0.12), (224.0, -0.20), (223.7, -0.28), (224.5, -0.36),
    (227.2, 0.41), (226.6, 0.33), (227.7, 0.25), (226.9, 0.17), (227.4, 0.09), (226.5, 0.01), (227.8, -0.07), (227.0, -0.15), (226.7, -0.23), (227.5, -0.31),
    (230.3, 0.45), (229.6, 0.37), (230.8, 0.29), (229.9, 0.21), (230.4, 0.13), (229.5, 0.05), (230.7, -0.03), (230.0, -0.11), (229.7, -0.19), (230.5, -0.27), (229.8, -0.35),
    (233.2, 0.41), (232.6, 0.33), (233.7, 0.25), (232.9, 0.17), (233.4, 0.09), (232.5, 0.01), (233.8, -0.07), (233.0, -0.15), (232.7, -0.23), (233.5, -0.31), (232.8, -0.39),
    (236.3, 0.47), (235.6, 0.39), (236.8, 0.31), (235.9, 0.23), (236.4, 0.15), (235.5, 0.07), (236.7, -0.01), (236.0, -0.09), (235.7, -0.17), (236.5, -0.25), (235.8, -0.33),
    (239.2, 0.43), (238.6, 0.35), (239.7, 0.27), (238.9, 0.19), (239.4, 0.11), (238.5, 0.03), (239.8, -0.05), (239.0, -0.13), (238.7, -0.21), (239.5, -0.29), (238.8, -0.37), (239.3, -0.45),
    (242.3, 0.49), (241.6, 0.41), (242.8, 0.33), (241.9, 0.25), (242.4, 0.17), (241.5, 0.09), (242.7, 0.01), (242.0, -0.07), (241.7, -0.15), (242.5, -0.23), (241.8, -0.31), (242.2, -0.39),
    (245.2, 0.45), (244.6, 0.37), (245.7, 0.29), (244.9, 0.21), (245.4, 0.13), (244.5, 0.05), (245.8, -0.03), (245.0, -0.11), (244.7, -0.19), (245.5, -0.27), (244.8, -0.35), (245.3, -0.43),
    (248.3, 0.51), (247.6, 0.43), (248.8, 0.35), (247.9, 0.27), (248.4, 0.19), (247.5, 0.11), (248.7, 0.03), (248.0, -0.05), (247.7, -0.13), (248.5, -0.21), (247.8, -0.29), (248.2, -0.37),
    (251.2, 0.47), (250.6, 0.39), (251.7, 0.31), (250.9, 0.23), (251.4, 0.15), (250.5, 0.07), (251.8, -0.01), (251.0, -0.09), (250.7, -0.17), (251.5, -0.25), (250.8, -0.33), (251.3, -0.41),
    (254.3, 0.44), (253.6, 0.36), (254.8, 0.28), (253.9, 0.20), (254.4, 0.12), (253.5, 0.04), (254.7, -0.04), (254.0, -0.12), (253.7, -0.20), (254.5, -0.28), (253.8, -0.36),
    (257.2, 0.40), (256.6, 0.32), (257.7, 0.24), (256.9, 0.16), (257.4, 0.08), (256.5, 0.00), (257.8, -0.08), (257.0, -0.16), (256.7, -0.24), (257.5, -0.32), (256.8, -0.40),
    (260.3, 0.36), (259.6, 0.28), (260.8, 0.20), (259.9, 0.12), (260.4, 0.04), (259.5, -0.04), (260.7, -0.12), (260.0, -0.20), (259.7, -0.28),
    (263.2, 0.31), (262.6, 0.23), (263.7, 0.15), (262.9, 0.07), (263.4, -0.01), (262.5, -0.09), (263.8, -0.17), (263.0, -0.25), (262.7, -0.33),
    (266.3, 0.27), (265.6, 0.19), (266.8, 0.11), (265.9, 0.03), (266.4, -0.05), (265.5, -0.13), (266.7, -0.21),
    (246, 0.96), (229.4, 0.74), (240.2, 0.70), (249, 0.64), (244, 0.56), (251.3, 0.53), (256.2, 0.52), (259.4, 0.62), (226.2, 0.51), (233, 0.57),
]
fig9_southwest_dense = [
    (222.7, 0.36), (222.4, 0.28), (222.9, 0.20), (222.5, 0.12), (222.8, 0.04), (222.3, -0.04), (222.6, -0.12), (222.9, -0.20),
    (225.6, 0.32), (225.4, 0.24), (225.8, 0.16), (225.5, 0.08), (225.7, 0.00), (225.3, -0.08), (225.6, -0.16), (225.9, -0.24),
    (228.7, 0.37), (228.4, 0.29), (228.9, 0.21), (228.5, 0.13), (228.8, 0.05), (228.3, -0.03), (228.6, -0.11), (228.9, -0.19), (228.5, -0.27),
    (231.6, 0.41), (231.4, 0.33), (231.8, 0.25), (231.5, 0.17), (231.7, 0.09), (231.3, 0.01), (231.6, -0.07), (231.9, -0.15), (231.5, -0.23), (231.7, -0.31),
    (234.7, 0.37), (234.4, 0.29), (234.9, 0.21), (234.5, 0.13), (234.8, 0.05), (234.3, -0.03), (234.6, -0.11), (234.9, -0.19), (234.5, -0.27), (234.7, -0.35),
    (237.6, 0.43), (237.4, 0.35), (237.8, 0.27), (237.5, 0.19), (237.7, 0.11), (237.3, 0.03), (237.6, -0.05), (237.9, -0.13), (237.5, -0.21), (237.7, -0.29),
    (240.7, 0.39), (240.4, 0.31), (240.9, 0.23), (240.5, 0.15), (240.8, 0.07), (240.3, -0.01), (240.6, -0.09), (240.9, -0.17), (240.5, -0.25), (240.7, -0.33),
    (243.6, 0.45), (243.4, 0.37), (243.8, 0.29), (243.5, 0.21), (243.7, 0.13), (243.3, 0.05), (243.6, -0.03), (243.9, -0.11), (243.5, -0.19), (243.7, -0.27), (243.4, -0.35),
    (246.7, 0.41), (246.4, 0.33), (246.9, 0.25), (246.5, 0.17), (246.8, 0.09), (246.3, 0.01), (246.6, -0.07), (246.9, -0.15), (246.5, -0.23), (246.7, -0.31),
    (249.6, 0.47), (249.4, 0.39), (249.8, 0.31), (249.5, 0.23), (249.7, 0.15), (249.3, 0.07), (249.6, -0.01), (249.9, -0.09), (249.5, -0.17), (249.7, -0.25), (249.4, -0.33),
    (252.7, 0.40), (252.4, 0.32), (252.9, 0.24), (252.5, 0.16), (252.8, 0.08), (252.3, 0.00), (252.6, -0.08), (252.9, -0.16), (252.5, -0.24), (252.7, -0.32),
    (255.6, 0.36), (255.4, 0.28), (255.8, 0.20), (255.5, 0.12), (255.7, 0.04), (255.3, -0.04), (255.6, -0.12), (255.9, -0.20), (255.5, -0.28),
    (258.7, 0.32), (258.4, 0.24), (258.9, 0.16), (258.5, 0.08), (258.8, 0.00), (258.3, -0.08), (258.6, -0.16), (258.9, -0.24),
    (261.6, 0.28), (261.4, 0.20), (261.8, 0.12), (261.5, 0.04), (261.7, -0.04), (261.3, -0.12), (261.6, -0.20),
]
fig9_southwest_low = [
    (239.6, -0.576), (242.6, -0.576), (248.3, -0.63), (251.2, -0.703), (249.8, -0.758), (255.6, -0.685), (257.1, -0.758), (262.9, -0.74), (260, -0.576), (254.2, -0.502),
    (257.1, -0.466), (261.4, -0.466), (265.8, -0.447), (268.7, -0.484), (271.6, -0.466), (228, -0.703), (230.9, -0.721), (235.2, -0.831), (244, -0.886), (252.7, -0.94),
    (255.6, -0.977), (257.1, -1.05), (266.6, -0.867), (270.2, -0.977), (271.6, -1.03), (274.5, -1.05), (277.5, -1.07), (280.3, -1.05), (283.3, -1.03), (290.5, -1.07),
    (297.2, -1.215), (294.9, -1.434), (249.8, -1.106), (252.7, -1.142), (258.5, -1.16), (260, -1.252), (257.1, -1.27), (262.9, -1.196), (267.2, -1.306), (268.7, -1.27),
    (271.6, -1.215), (274.5, -1.16), (277.5, -1.124), (243.9, -1.343), (270.2, -1.48), (277.5, -1.59), (281.5, -1.68), (276, -0.557), (280.3, -0.575), (283.8, -0.729),
    (297.2, -0.54), (295.5, -0.656), (304.3, -0.758), (245, -0.50), (251, -0.55), (258, -0.60), (264, -0.62), (247, -0.69), (253, -0.80), (259, -0.86),
    (262, -0.95), (265, -1.00), (268, -1.10), (261, -1.08), (255, -1.20), (272, -1.12), (248, -0.45), (262, -0.52), (236, -0.62), (241, -0.45),
    (250, -0.42), (253, -0.48), (256, -0.54), (259, -0.45), (263, -0.40), (266, -0.36), (252, -0.62), (255, -0.75), (258, -0.68), (261, -0.80),
    (264, -0.72), (267, -0.60), (250, -0.85), (256, -0.90), (263, -0.88),
]
fig9_west = [
    (270.2, 0.44), (271.6, 0.375), (281.8, 0.375), (288.5, 0.382), (289.1, 0.338), (297.8, 0.338), (306, 0.345), (315.3, 0.284), (281.8, -0.173), (286.2, -0.228),
    (290.5, -0.301), (297.8, -0.21), (305.1, -0.246), (315.3, -0.192), (316.8, -0.356), (283.2, -0.338), (278.9, -0.393), (287.6, -0.436), (274.5, -0.411), (358, 0.52),
    (343, 0.51), (351.9, -0.61), (343, -0.61), (357.3, -0.70), (354.1, -0.57), (350, -0.39), (349.4, -0.22), (350, -0.27), (320.7, -0.92), (330.3, -1.15),
    (345.5, -1.11), (295.2, -1.04), (298.4, -0.53), (315.9, -0.34), (319.1, -0.27), (323.9, -0.20), (328.7, -0.18), (315.9, -0.20), (320.7, -0.18), (311.1, -0.24),
    (336.6, -0.12), (333.4, -0.06), (343, -0.05), (270, -0.12), (274, -0.05), (277, -0.20), (280, -0.08), (284, -0.02), (292, -0.12),
    (269.3, 0.30), (268.7, 0.22), (269.8, 0.14), (268.9, 0.06), (269.5, -0.02),
    (272.2, 0.26), (271.6, 0.18), (272.7, 0.10), (271.9, 0.02),
    (275.3, 0.29), (274.6, 0.21), (275.8, 0.13), (274.9, 0.05), (275.4, -0.03),
    (278.2, 0.25), (277.6, 0.17), (278.7, 0.09), (277.9, 0.01),
    (281.3, 0.28), (280.6, 0.20), (281.8, 0.12), (280.9, 0.04), (281.4, -0.04),
    (284.2, 0.24), (283.6, 0.16), (284.7, 0.08), (283.9, 0.00),
    (287.3, 0.27), (286.6, 0.19), (287.8, 0.11), (286.9, 0.03), (287.4, -0.05),
    (290.2, 0.23), (289.6, 0.15), (290.7, 0.07), (289.9, -0.01),
    (293.3, 0.26), (292.6, 0.18), (293.8, 0.10), (292.9, 0.02), (293.4, -0.06),
    (296.2, 0.22), (295.6, 0.14), (296.7, 0.06), (295.9, -0.02),
    (299.3, 0.25), (298.6, 0.17), (299.8, 0.09), (298.9, 0.01),
    (302.2, 0.21), (301.6, 0.13), (302.7, 0.05), (301.9, -0.03),
    (305.3, 0.24), (304.6, 0.16), (305.8, 0.08), (304.9, 0.00),
    (308.2, 0.20), (307.6, 0.12), (308.7, 0.04), (307.9, -0.04),
    (311.3, 0.23), (310.6, 0.15), (311.8, 0.07), (310.9, -0.01),
    (314.2, 0.27), (313.6, 0.19), (314.7, 0.11), (313.9, 0.03),
    (317.3, 0.22), (316.6, 0.14), (317.8, 0.06), (316.9, -0.02),
    (320.2, 0.26), (319.6, 0.18), (320.7, 0.10), (319.9, 0.02), (320.4, -0.06),
    (323.3, 0.21), (322.6, 0.13), (323.8, 0.05), (322.9, -0.03),
    (326.2, 0.25), (325.6, 0.17), (326.7, 0.09), (325.9, 0.01),
    (329.3, 0.29), (328.6, 0.20), (329.8, 0.12), (328.9, 0.04), (329.4, -0.04),
    (332.2, 0.24), (331.6, 0.16), (332.7, 0.08), (331.9, 0.00),
    (335.3, 0.28), (334.6, 0.19), (335.8, 0.11), (334.9, 0.03), (335.4, -0.05),
    (338.2, 0.23), (337.6, 0.15), (338.7, 0.07), (337.9, -0.01),
    (341.3, 0.21), (340.6, 0.13), (341.8, 0.05), (340.9, -0.03),
    (344.2, 0.24), (343.6, 0.16), (344.7, 0.08), (343.9, 0.00), (344.4, -0.08),
    (347.3, 0.20), (346.6, 0.12), (347.8, 0.04), (346.9, -0.04),
    (350.2, 0.23), (349.6, 0.15), (350.7, 0.07), (349.9, -0.01), (350.4, -0.09),
    (353.3, 0.19), (352.6, 0.11), (353.8, 0.03), (352.9, -0.05),
    (356.2, 0.22), (355.6, 0.14), (356.7, 0.06), (355.9, -0.02), (356.4, -0.10),
    (359.3, 0.17), (358.6, 0.09), (359.8, 0.01), (358.9, -0.07),
    (361.0, 0.13), (360.5, 0.05), (361.2, -0.03),
]
fig9_west_dense = [
    (270.8, 0.20), (270.6, 0.08), (273.8, 0.22), (273.6, 0.12), (273.9, 0.00), (276.7, 0.19), (276.5, 0.07), (279.8, 0.23), (279.6, 0.13), (279.9, 0.03),
    (282.7, 0.20), (282.5, 0.08), (285.8, 0.22), (285.6, 0.12), (285.9, 0.02), (288.7, 0.19), (288.5, 0.07), (291.8, 0.21), (291.6, 0.11), (291.9, 0.01),
    (294.7, 0.18), (294.5, 0.06), (297.8, 0.20), (297.6, 0.10), (297.9, 0.02), (300.7, 0.17), (300.5, 0.05), (303.8, 0.19), (303.6, 0.10), (303.9, 0.02),
    (306.7, 0.16), (306.5, 0.06), (309.8, 0.18), (309.6, 0.09), (309.9, 0.01), (312.7, 0.21), (312.5, 0.09), (315.8, 0.18), (315.6, 0.08), (315.9, 0.00),
    (318.7, 0.21), (318.5, 0.10), (321.8, 0.17), (321.6, 0.08), (321.9, 0.00), (324.7, 0.20), (324.5, 0.09), (327.8, 0.23), (327.6, 0.12), (327.9, 0.02),
    (330.7, 0.20), (330.5, 0.08), (333.8, 0.22), (333.6, 0.12), (333.9, 0.02), (336.7, 0.19), (336.5, 0.07), (339.8, 0.17), (339.6, 0.08), (339.9, 0.00),
    (342.7, 0.19), (342.5, 0.06), (345.8, 0.16), (345.6, 0.08), (345.9, -0.01), (348.7, 0.18), (348.5, 0.06), (351.8, 0.17), (351.6, 0.07), (351.9, -0.02),
    (354.7, 0.17), (354.5, 0.05), (357.8, 0.14), (357.6, 0.04),
]

fig8_groups = [fig8_north, fig8_northeast, fig8_northeast_dense, fig8_east, fig8_southeast,
               fig8_south, fig8_southwest, fig8_southwest_dense, fig8_west, fig8_northwest]
fig9_groups = [fig9_north, fig9_north_core, fig9_north_dense, fig9_east, fig9_south,
               fig9_southwest_core, fig9_southwest_dense, fig9_southwest_low, fig9_west,
               fig9_west_dense]

# ---------------- drawing ----------------
W, H = 1160, 546
fig = plt.figure(figsize=(W / 100, H / 100), dpi=100)
fig.patch.set_facecolor("white")

SERIF = ["Liberation Serif", "DejaVu Serif"]
SANS = ["Liberation Sans", "DejaVu Sans"]
TEXT_C = "#1e1e1e"


def fx(px):
    return px / W


def fy(py):
    return 1 - py / H


def rect(left, top, right, bottom):
    return [fx(left), fy(bottom), (right - left) / W, (bottom - top) / H]


def panel(box, ylim, groups):
    ax = fig.add_axes(box)
    for g in groups:
        xs = [p[0] for p in g]
        ys = [p[1] for p in g]
        ax.plot(xs, ys, linestyle="none", marker="o", ms=5.0, mfc="black",
                mec="#111111", mew=0.3, zorder=3, clip_on=True)
    ax.set_xlim(-7.2, 367.2)
    ax.set_ylim(*ylim)
    ax.xaxis.set_major_locator(FixedLocator(x_tick_values))
    ax.yaxis.set_major_locator(FixedLocator(y_tick_values))
    ax.xaxis.set_minor_locator(MultipleLocator(10))
    ax.yaxis.set_minor_locator(MultipleLocator(0.1))
    ax.set_xticklabels(x_tick_labels, fontfamily=SERIF, fontsize=14.5, color=TEXT_C)
    ax.set_yticklabels(y_tick_labels, fontfamily=SERIF, fontsize=14.5, color=TEXT_C)
    ax.grid(True, which="major", color="#a3a3a3", lw=1.0, zorder=1)
    ax.set_axisbelow(True)
    ax.tick_params(which="both", direction="in", top=True, right=True,
                   color="#333333", width=0.7)
    ax.tick_params(which="major", length=4.0)
    ax.tick_params(which="minor", length=2.2)
    ax.tick_params(axis="x", pad=6)
    ax.tick_params(axis="y", pad=5)
    for sp in ax.spines.values():
        sp.set_color("#333333")
        sp.set_linewidth(0.8)
    return ax


ax8 = panel(rect(131.5, 49.3, 558.3, 313.1), (-1.574, 1.064), fig8_groups)
ax9 = panel(rect(711.8, 12.7, 1140.4, 274.0), (-1.752, 1.113), fig9_groups)

# axis labels
fig.text(fx(39), fy(176), y_label_fig8, rotation=90, ha="center", va="center",
         fontfamily=SERIF, fontsize=14.8, color=TEXT_C)
fig.text(fx(625), fy(138.5), y_label_fig9, rotation=90, ha="center", va="center",
         fontfamily=SERIF, fontsize=14.5, color=TEXT_C)
fig.text(fx(343), fy(368), x_label, ha="center", va="center",
         fontfamily=SERIF, fontsize=14.5, color=TEXT_C)
fig.text(fx(925), fy(334), x_label, ha="center", va="center",
         fontfamily=SERIF, fontsize=14.5, color=TEXT_C)

# captions
for i, line in enumerate(caption_fig8):
    fig.text(fx(23.4), fy(425.5 + 36.5 * i), line, ha="left", va="baseline",
             fontfamily=SANS, fontweight="bold", fontsize=15.4, color="black")
for i, line in enumerate(caption_fig9):
    fig.text(fx(605.3), fy(389 + 36.5 * i), line, ha="left", va="baseline",
             fontfamily=SANS, fontweight="bold", fontsize=15.4, color="black")

# table borders
border = dict(transform=fig.transFigure, color="black", lw=1.3, solid_capstyle="butt")
fig.add_artist(Line2D([fx(7.5), 1.0], [fy(9.5), fy(9.5)], **border))
fig.add_artist(Line2D([fx(8.2), fx(8.2)], [fy(9.5), 0.0], **border))
fig.add_artist(Line2D([fx(589.3), fx(589.3)], [fy(9.5), 0.0], **border))

fig.savefig("out.png", dpi=100, facecolor="white")
